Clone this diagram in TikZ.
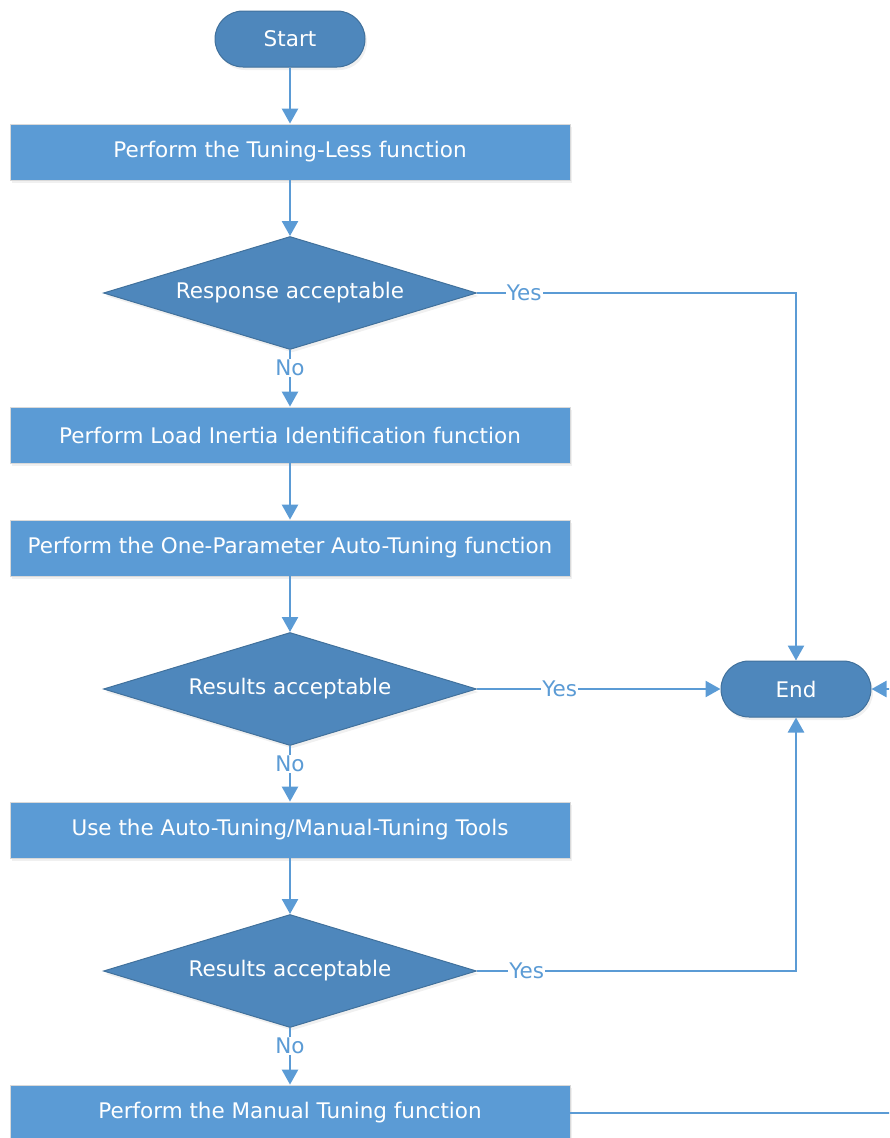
\documentclass[tikz,border=0pt]{standalone}
\usepackage{fontspec}
\setmainfont{DejaVu Sans}
\usetikzlibrary{shapes.geometric,arrows.meta,shadows}
\definecolor{boxblue}{HTML}{5B9BD5}
\definecolor{decblue}{HTML}{4E87BC}
\definecolor{decline}{HTML}{41719C}
\definecolor{lineblue}{HTML}{5B9BD5}
\tikzset{
  process/.style={rectangle,fill=boxblue,draw=black!15,line width=0.8pt,minimum width=560pt,minimum height=56pt,
    text=white,font=\fontsize{21.5}{25}\selectfont,drop shadow={opacity=0.12,shadow xshift=2pt,shadow yshift=-3pt}},
  decision/.style={diamond,aspect=3.3,inner sep=0pt,fill=decblue,draw=decline,line width=1pt,minimum width=373pt,minimum height=113pt,
    text=white,font=\fontsize{21.5}{25}\selectfont,drop shadow={opacity=0.12,shadow xshift=2pt,shadow yshift=-3pt}},
  terminal/.style={rectangle,rounded corners=28pt,fill=decblue,draw=decline,line width=1pt,minimum width=150pt,minimum height=56pt,
    text=white,font=\fontsize{21.5}{25}\selectfont,drop shadow={opacity=0.12,shadow xshift=2pt,shadow yshift=-3pt}},
  flow/.style={draw=lineblue,line width=2.5pt,-{Triangle[width=16pt,length=15pt]}},
  answer/.style={fill=white,text=lineblue,inner sep=1pt,font=\fontsize{21.5}{25}\selectfont}
}
\begin{document}
\begin{tikzpicture}[x=1pt,y=-1pt]
        \useasboundingbox (0,0) rectangle (889,1138);
        \clip (0,0) rectangle (889,1138);
        % left column
        \node [terminal] (start) at (290,39) {Start};
        \node [process] (tuneless) at (290,152) {Perform the Tuning-Less function};
        \node [decision] (resp) at (290,293) {Response acceptable};
        \node [process] (inertia) at (290,435) {Perform Load Inertia Identification function};
        \node [process] (onepar) at (290,548) {Perform the One-Parameter Auto-Tuning function};
        \node [decision] (res1) at (290,689) {Results acceptable};
        \node [process] (tools) at (290,830) {Use the Auto-Tuning/Manual-Tuning Tools};
        \node [decision] (res2) at (290,971) {Results acceptable};
        \node [process] (manual) at (290,1113) {Perform the Manual Tuning function};
        % right side
        \node [terminal] (end) at (796,689) {End};
        \coordinate (back) at (910,1113);
        % main flow
        \draw [flow] (start) -- (tuneless);
        \draw [flow] (tuneless) -- (resp);
        \draw [flow] (resp) -- node [answer,pos=0.32] {No} (inertia);
        \draw [flow] (inertia) -- (onepar);
        \draw [flow] (onepar) -- (res1);
        \draw [flow] (res1) -- node [answer,pos=0.32] {No} (tools);
        \draw [flow] (tools) -- (res2);
        \draw [flow] (res2) -- node [answer,pos=0.32] {No} (manual);
        % exits to End
        \draw [flow] (resp) -| node [answer,pos=0.074] {Yes} (end);
        \draw [flow] (res1) -- node [answer,pos=0.34] {Yes} (end);
        \draw [flow] (res2) -| node [answer,pos=0.078] {Yes} (end);
        \draw [flow] (manual) -- (back) |- (end);
    \end{tikzpicture}
\end{document}
